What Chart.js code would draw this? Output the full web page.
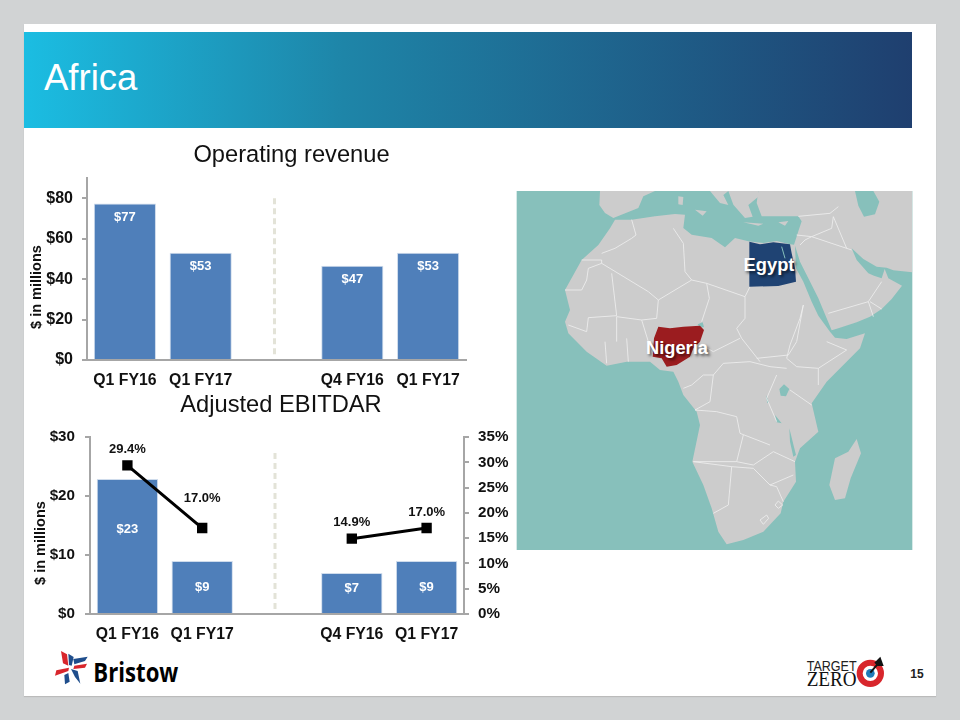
<!DOCTYPE html>
<html>
<head>
<meta charset="utf-8">
<title>Africa</title>
<script src="https://cdn.jsdelivr.net/npm/chart.js@4"></script>
<style>
html, body { margin: 0; padding: 0; }
body { width: 960px; height: 720px; background: #d1d3d4; position: relative; overflow: hidden; font-family: 'Liberation Sans', Arial, sans-serif; }
#slide { position: absolute; left: 24px; top: 24px; width: 912px; height: 672px; background: #fff; box-shadow: 0 1px 1px #bbb; }
#banner { position: absolute; left: 24px; top: 32px; width: 888px; height: 96px; background: linear-gradient(90deg, #1bbde2 0%, #1e85a8 36%, #1f3f6f 100%); }
#banner span { position: absolute; left: 20px; top: 24px; font-size: 36.5px; line-height: 44px; color: #fff; }
#map { position: absolute; left: 510px; top: 185px; width: 410px; height: 370px; }
.place { position: absolute; transform: translate(-50%, -50%); font-weight: bold; font-size: 18.3px; color: #fff; text-shadow: 2px 2px 3px rgba(0,0,0,.6); }
canvas { position: absolute; }
#revenueChart { left: 28px; top: 136px; }
#ebitdarChart { left: 30px; top: 385px; }
#logoBristow { position: absolute; left: 45px; top: 645px; width: 145px; height: 45px; }
#logoZero { position: absolute; left: 795px; top: 650px; width: 130px; height: 45px; }
#pageNo { position: absolute; left: 907px; top: 667px; width: 20px; text-align: center; font-size: 12px; font-weight: bold; color: #222; }
</style>
</head>
<body>
<div id="slide"></div>
<div id="banner"><span>Africa</span></div>

<!-- map traced by hand, units are 3x page pixels -->
<svg id="map" viewBox="0 0 1230 1110">
  <defs><clipPath id="mapClip"><rect x="20" y="18" width="1187" height="1077"/></clipPath></defs>
  <rect x="20" y="18" width="1187" height="1077" fill="#87c0bb"/>
  <g clip-path="url(#mapClip)">
    <g fill="#cccccc">
      <!-- africa, arabia, middle east -->
      <path d="M315 104L365 104 435 94 495 87 525 89 520 129 545 149 605 159 645 187 675 159 715 169 760 174 800 168 840 178 852 179 865 139 875 109 865 94 755 94 740 54 745 18 1035 18 1045 62 1062 95 1095 88 1108 50 1090 18 1207 18 1207 262 1150 256 1130 248 1100 245 1060 222 1025 190 1040 225 1075 265 1092 272 1115 280 1124 252 1135 280 1176 302 1145 342 1115 372 1080 395 1040 412 985 430 965 436 950 400 925 340 895 280 870 230 855 182 858 250 880 290 905 350 925 392 960 440 975 458 1010 462 1065 445 1050 490 1000 540 950 590 905 655 925 740 870 790 855 830 858 890 820 950 812 985 760 1040 700 1065 650 1078 625 1040 605 970 580 900 547 830 570 720 560 680 520 630 505 590 490 560 450 555 420 530 350 530 290 542 230 500 175 445 165 410 180 375 165 315 215 225 265 180 300 130Z"/>
      <!-- madagascar -->
      <path d="M1040 762L1053 805 1022 880 1005 940 975 945 958 900 975 820 1015 800Z"/>
      <!-- spain -->
      <path d="M270 18L268 60 285 84 310 99 385 69 400 34 435 18Z"/>
      <!-- italy, balkans, greece -->
      <path d="M600 18L630 54 655 60 640 30 655 18ZM655 18L670 59 705 99 728 95 715 60 745 35 745 18Z"/>
      <!-- islands -->
      <path d="M505 34L520 36 518 60 505 58ZM555 74L590 79 578 92ZM700 112L760 116 745 122ZM805 112L835 108 825 122Z"/>
    </g>
    <!-- lakes and gulf details -->
    <g fill="#87c0bb">
      <path d="M808 612L822 598 838 612 828 634 812 632ZM563 418L578 412 582 426 570 428ZM768 630L776 650 772 655ZM795 690L815 715 800 712ZM838 730L858 810 850 815 840 770Z"/>
    </g>
    <!-- country borders -->
    <g fill="none" stroke="#eeeeee" stroke-width="2.5">
      <path d="M275 205L315 190 365 160 378 150 365 104M215 225H275V235L235 250 230 285 215 315H165M275 235L415 320 445 345 545 285 590 295 705 335 720 305M490 130L520 175 525 260 545 285M305 265L320 392 235 398 230 440 175 420M445 345L440 400 395 405 320 395M590 295L598 340 575 410M705 335V400L680 430 695 460 750 530M575 480L610 500 690 460M610 570L640 535 720 530 780 545 830 550M740 520L835 510 860 470 880 360M880 360L870 400 840 480 830 520 860 545 925 550 1010 495 950 470M925 550V600M840 615L905 660M800 570L770 640 800 710M555 675L620 680 680 695 690 745 780 780M700 750L680 830H550M550 830L665 845 655 960 610 985M665 845L730 850 780 900 800 905 820 950M680 830L730 840 790 800 855 830M780 900L850 870M520 610L545 600 580 570H610L600 650 555 675M320 395V470M285 470L290 535M350 460L355 530M395 405L415 470 430 515M860 150L905 155 965 130 970 95 1010 190M870 180L885 165 905 155 1025 195M955 385L1075 350 1115 290M1080 350L1115 372M865 94L960 85 985 65M1075 350L1090 395"/>
      <path d="M750 1005L770 990 776 1000 760 1018ZM795 960L805 948 818 960 805 970Z"/>
    </g>
    <path fill="#1f4373" d="M718 170L750 178 790 172 840 178 845 205 855 250 858 290 805 303 718 305Z"/>
    <path fill="#9b1c1f" d="M445 425L480 430 520 425 570 422 582 435 570 470 550 490 540 515 500 540 470 545 455 520 428 515 432 460Z"/>
    <path fill="none" stroke="#87c0bb" stroke-width="3" d="M815 185L825 220"/>
  </g>
</svg>
<div class="place" style="left:769px;top:265px">Egypt</div>
<div class="place" style="left:677px;top:348px">Nigeria</div>

<canvas id="revenueChart" width="527" height="259"></canvas>
<canvas id="ebitdarChart" width="502" height="260"></canvas>

<svg id="logoBristow" viewBox="0 0 435 135">
  <g fill="#d8262c">
    <path d="M48 18L66 28 70 62 54 55ZM88 62L126 56 120 68 85 72ZM34 76L72 68 70 78 30 92Z"/>
  </g>
  <g fill="#1f4e8c">
    <path d="M70 26L86 36 80 62 72 60ZM85 42L128 35 120 48 88 58ZM78 72L98 78 106 116 90 96ZM70 84L74 110 60 118 58 90Z"/>
  </g>
  <text x="145" y="111" font-family="'Open Sans', sans-serif" font-weight="700" font-size="78" textLength="255" lengthAdjust="spacingAndGlyphs">Bristow</text>
</svg>

<svg id="logoZero" viewBox="0 0 390 135">
  <text x="35" y="62" font-family="'Liberation Sans Narrow', 'Liberation Sans', sans-serif" font-size="46" textLength="150" lengthAdjust="spacingAndGlyphs" fill="#222">TARGET</text>
  <text x="35" y="108" font-family="'Liberation Serif', serif" font-size="64" textLength="150" lengthAdjust="spacingAndGlyphs" fill="#111">ZERO</text>
  <circle cx="226" cy="70" r="32" fill="none" stroke="#d8262c" stroke-width="18"/>
  <circle cx="226" cy="70" r="13" fill="#1f7ab8"/>
  <path d="M226 68L252 38" stroke="#111" stroke-width="6"/>
  <path d="M238 38L256 20 266 48 248 48Z" fill="#111"/>
</svg>
<div id="pageNo">15</div>

<script>
'use strict';

//chart values
var categories = ['Q1 FY16', 'Q1 FY17', '', 'Q4 FY16', 'Q1 FY17'];
var revenueValues = [77.4, 53, null, 46.6, 53];
var ebitdarValues = [22.9, 9, null, 6.95, 9];
var marginValues = [29.4, 17.0, null, 14.9, 17.0];
var revenueTicks = [0, 20, 40, 60, 80];
var ebitdarTicks = [0, 10, 20, 30];
var marginTicks = [0, 5, 10, 15, 20, 25, 30, 35];

var barColor = '#4f7fba';
var axisColor = '#a6a6a6';
var inkColor = '#111111';
Chart.defaults.font.family = "'Liberation Sans', Arial, sans-serif";
Chart.defaults.animation = false;

//white $ labels on the bars, dark % labels over the line points, dashed divider, y axis note
var slideMarks = {
  id: 'slideMarks',
  afterDatasetsDraw: function (chart, args, opts) {
    var ctx = chart.ctx;
    var xScale = chart.scales.x;
    var yScale = chart.scales.y;
    ctx.save();

    //divider sits on the empty category
    var dividerX = xScale.getPixelForValue(2) - 2;
    ctx.strokeStyle = '#e3e3d8';
    ctx.lineWidth = 3;
    ctx.setLineDash([6, 4]);
    ctx.beginPath();
    ctx.moveTo(dividerX, yScale.getPixelForValue(opts.dividerTop));
    ctx.lineTo(dividerX, yScale.getPixelForValue(0) - 2);
    ctx.stroke();
    ctx.setLineDash([]);

    ctx.textAlign = 'center';
    ctx.textBaseline = 'middle';
    ctx.font = 'bold 13px ' + Chart.defaults.font.family;
    chart.data.datasets.forEach(function (dataset, i) {
      chart.getDatasetMeta(i).data.forEach(function (el, j) {
        var v = dataset.data[j];
        if (v === null) return;
        if (dataset.type === 'line') {
          ctx.fillStyle = inkColor;
          ctx.fillText(v.toFixed(1) + '%', el.x, el.y + opts.lineShift[j]);
        } else {
          ctx.fillStyle = '#ffffff';
          ctx.fillText('$' + Math.round(v), el.x, opts.barLabelY(el, j));
        }
      });
    });

    //y axis note, lower than the middle of the axis
    ctx.translate(opts.noteX, opts.noteY);
    ctx.rotate(-Math.PI / 2);
    ctx.fillStyle = inkColor;
    ctx.font = 'bold 14.5px ' + Chart.defaults.font.family;
    ctx.fillText('$ in millions', 0, 0);
    ctx.restore();
  }
};

function xAxis(fitHeight) {
  return {
    type: 'category',
    grid: { display: false, drawTicks: false },
    border: { color: axisColor, width: 2 },
    ticks: { color: inkColor, padding: 11, autoSkip: false, maxRotation: 0, font: { size: 15.8, weight: 'bold' } },
    afterFit: function (scale) { scale.height = fitHeight; }
  };
}

function valueAxis(position, max, tickValues, fitWidth, format, pad, size) {
  return {
    position: position,
    min: 0,
    max: max,
    grid: { drawOnChartArea: false, color: axisColor, lineWidth: 2, tickLength: 5 },
    border: { color: axisColor, width: 2 },
    ticks: { color: inkColor, padding: pad, font: { size: size, weight: 'bold' }, callback: format },
    afterBuildTicks: function (scale) {
      scale.ticks = tickValues.map(function (v) { return { value: v }; });
    },
    afterFit: function (scale) { scale.width = fitWidth; }
  };
}

function dollars(v) { return '$' + v; }
function percent(v) { return v + '%'; }

function chartTitle(text, top, bottom) {
  return { display: true, text: text, color: inkColor, font: { size: 23.7, weight: 'normal' }, padding: { top: top, bottom: bottom } };
}

new Chart(document.getElementById('revenueChart'), {
  type: 'bar',
  data: {
    labels: categories,
    datasets: [{
      label: 'Operating revenue',
      data: revenueValues,
      backgroundColor: barColor,
      borderColor: '#cfdcec',
      borderWidth: 1,
      categoryPercentage: 1,
      barPercentage: 0.82
    }]
  },
  options: {
    responsive: false,
    scales: {
      x: xAxis(35),
      y: valueAxis('left', 90, revenueTicks, 59, dollars, 9, 16),
      //empty right axis only keeps the title centred where it belongs
      spacer: {
        position: 'right',
        grid: { display: false },
        border: { display: false },
        ticks: { display: false },
        afterFit: function (scale) { scale.width = 89; }
      }
    },
    plugins: {
      legend: { display: false },
      tooltip: { enabled: false },
      title: chartTitle('Operating revenue', 5, 8.6),
      slideMarks: {
        dividerTop: 80,
        noteX: 9,
        noteY: 151,
        lineShift: [],
        barLabelY: function (el) { return el.y + 14; }
      }
    }
  },
  plugins: [slideMarks]
});

new Chart(document.getElementById('ebitdarChart'), {
  type: 'bar',
  data: {
    labels: categories,
    datasets: [{
      type: 'line',
      label: 'Margin',
      data: marginValues,
      yAxisID: 'yRight',
      order: 0,
      borderColor: '#000000',
      borderWidth: 3,
      backgroundColor: '#000000',
      pointStyle: 'rect',
      pointRadius: 5.2,
      spanGaps: false
    }, {
      label: 'Adjusted EBITDAR',
      data: ebitdarValues,
      order: 1,
      backgroundColor: barColor,
      borderColor: '#cfdcec',
      borderWidth: 1,
      categoryPercentage: 1,
      barPercentage: 0.82
    }]
  },
  options: {
    responsive: false,
    scales: {
      x: xAxis(31),
      y: valueAxis('left', 30, ebitdarTicks, 60, dollars, 10, 15.2),
      yRight: valueAxis('right', 35, marginTicks, 68, percent, 9, 15.2)
    },
    plugins: {
      legend: { display: false },
      tooltip: { enabled: false },
      title: chartTitle('Adjusted EBITDAR', 5.8, 17.8),
      slideMarks: {
        dividerTop: 27.3,
        noteX: 11,
        noteY: 158,
        lineShift: [-16, -30, 0, -16, -16],
        //the $23 and $7 labels sit a little above the middle of their bars
        barLabelY: function (el, j) {
          return (el.y + el.base) / 2 + [-17, 0, 0, -5, 0][j];
        }
      }
    }
  },
  plugins: [slideMarks]
});
</script>
</body>
</html>
